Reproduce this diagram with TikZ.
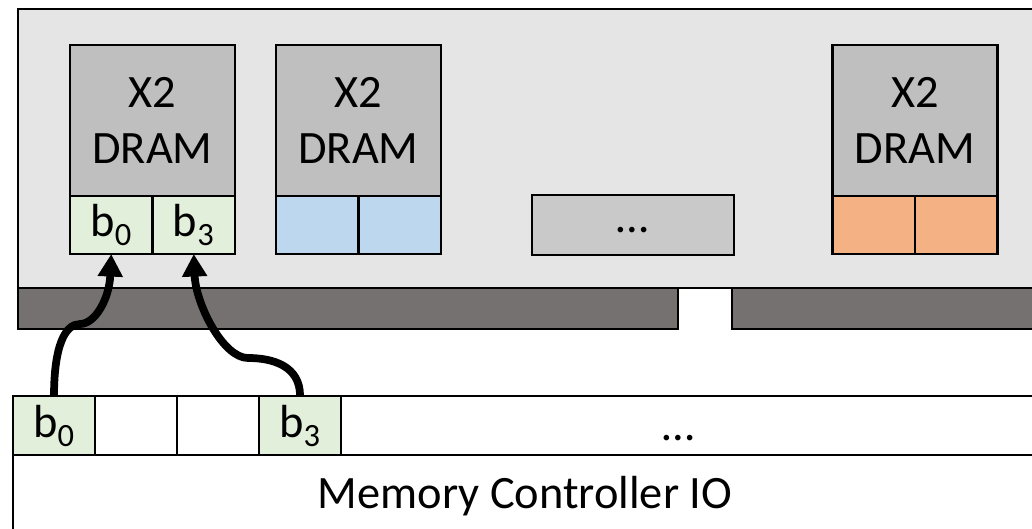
\documentclass[tikz,border=0pt]{standalone}
\usepackage{fontspec}
\setmainfont{Carlito}
\usetikzlibrary{arrows.meta}
\definecolor{boardgray}{HTML}{E5E5E5}
\definecolor{chipgray}{HTML}{BFBFBF}
\definecolor{pingray}{HTML}{767171}
\definecolor{dotsgray}{HTML}{C9C9C9}
\definecolor{lanegreen}{HTML}{E2EFDA}
\definecolor{laneblue}{HTML}{BDD7EE}
\definecolor{laneorange}{HTML}{F4B183}

\begin{document}
\begin{tikzpicture}[x=0.025cm, y=-0.025cm, line width=1.8pt]
    \tikzstyle{every node}=[draw, inner sep=0pt, outer sep=0pt, font=\fontsize{33}{40}\selectfont]
    \tikzstyle{chip}=[fill=chipgray, minimum width=4.125cm, minimum height=3.775cm, align=center]
    \tikzstyle{lane}=[minimum width=2.0625cm, minimum height=1.45cm]
    \tikzstyle{iolane}=[minimum width=2.05cm, minimum height=1.475cm, anchor=north west]
    \tikzstyle{label}=[draw=none]
    \tikzstyle{wire}=[line width=5.5pt, -{Triangle[length=16pt, width=17pt]}]
    \useasboundingbox (0,0) rectangle (1032,528);
    \clip (0,0) rectangle (1032,528);
    % module board with its edge connector
    \draw [fill=boardgray] (18,9) rectangle (1050,288);
    \draw [fill=pingray] (18,288) rectangle (678,329);
    \draw [fill=pingray] (732,288) rectangle (1050,329);
    % chips
    \node [chip] (chipA) at (152.5,120.5) {X2\\DRAM};
    \node [lane, fill=lanegreen, anchor=north east] (chipA0) at (chipA.south) {b\textsubscript{0}};
    \node [lane, fill=lanegreen, anchor=north west] (chipA3) at (chipA.south) {b\textsubscript{3}};
    \node [chip] (chipB) at (358.5,120.5) {X2\\DRAM};
    \node [lane, fill=laneblue, anchor=north east] (chipB0) at (chipB.south) {};
    \node [lane, fill=laneblue, anchor=north west] (chipB1) at (chipB.south) {};
    \node [fill=dotsgray, minimum width=5.05cm, minimum height=1.5cm, text height=11pt, text depth=0pt] (more) at (633,225) {\dots};
    \node [chip] (chipN) at (915,120.5) {X2\\DRAM};
    \node [lane, fill=laneorange, anchor=north east] (chipN0) at (chipN.south) {};
    \node [lane, fill=laneorange, anchor=north west] (chipN1) at (chipN.south) {};
    % memory controller
    \draw [fill=white] (13,396) rectangle (1050,540);
    \node [iolane, fill=lanegreen] (io0) at (13,396) {b\textsubscript{0}};
    \node [iolane] (io1) at (io0.north east) {};
    \node [iolane] (io2) at (io1.north east) {};
    \node [iolane, fill=lanegreen] (io3) at (io2.north east) {b\textsubscript{3}};
    \draw (io3.south east) -- +(720,0);
    \node [label, anchor=base] (iomore) at (679,440) {\dots};
    \node [label, anchor=base] (mcio) at (525,508) {Memory Controller IO};
    \draw [wire] (io0.north) .. controls +(0,-50) and +(-15,0) .. (80,324) .. controls +(15,0) and +(-2,45) .. (chipA0.south);
    \draw [wire] (io3.north) .. controls +(0,-30) and +(25,0) .. (248,358) .. controls +(-25,0) and +(2,50) .. (chipA3.south);
\end{tikzpicture}
\end{document}
